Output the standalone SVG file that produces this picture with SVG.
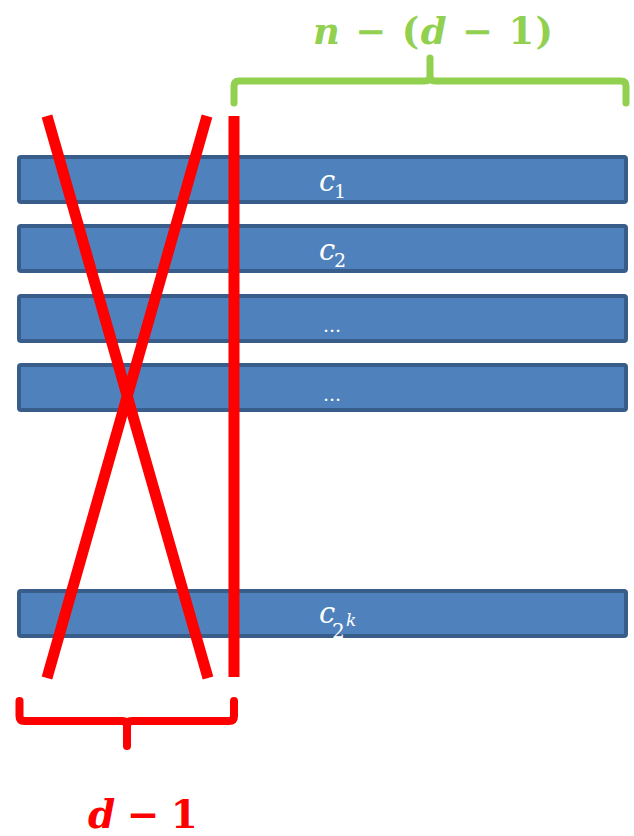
<svg xmlns="http://www.w3.org/2000/svg" width="634" height="836" viewBox="0 0 634 836">
  <style>
    .bar { fill: #4F81BD; stroke: #385D8A; stroke-width: 4; }
    .cut { stroke: #FF0000; stroke-width: 11; fill: none; }
    .lbl { fill: #FFFFFF; font-family: "DejaVu Serif", "Liberation Serif", serif; font-style: italic; }
    .sub { fill: #FFFFFF; font-family: "DejaVu Serif", "Liberation Serif", serif; font-style: normal; }
    .math { font-family: "DejaVu Serif", "Liberation Serif", serif; font-weight: bold; }
    .it { font-style: italic; }
  </style>
  <rect width="634" height="836" fill="#FFFFFF"/>

  <!-- codeword rows -->
  <g id="row1"><rect class="bar" x="19" y="157" width="607" height="45" rx="2"/>
    <text class="lbl" x="319" y="191" font-size="29">c</text><text class="sub" x="334" y="198" font-size="19">1</text></g>
  <g id="row2"><rect class="bar" x="19" y="226" width="607" height="45" rx="2"/>
    <text class="lbl" x="319" y="260" font-size="29">c</text><text class="sub" x="334" y="267" font-size="19">2</text></g>
  <g id="row3"><rect class="bar" x="19" y="296" width="607" height="45" rx="2"/>
    <text class="sub" x="332" y="332" font-size="19" text-anchor="middle">...</text></g>
  <g id="row4"><rect class="bar" x="19" y="365" width="607" height="45" rx="2"/>
    <text class="sub" x="332" y="401" font-size="19" text-anchor="middle">...</text></g>
  <g id="row5"><rect class="bar" x="19" y="591" width="607" height="45" rx="2"/>
    <text class="lbl" x="319" y="623" font-size="29">c</text><text class="sub" x="332" y="638" font-size="20">2</text><text class="lbl" x="346" y="626" font-size="17">k</text></g>

  <!-- deleted coordinates -->
  <g id="cuts">
    <line class="cut" x1="47" y1="116" x2="208" y2="678"/>
    <line class="cut" x1="207" y1="116" x2="47" y2="678"/>
    <line class="cut" x1="234" y1="116" x2="234" y2="677"/>
  </g>

  <!-- braces -->
  <g id="brace-top">
    <path d="M234,103 V86 Q234,81 239,81 H425 Q430,81 430,76 V58 M430,76 Q430,81 435,81 H621 Q626,81 626,86 V103" fill="none" stroke="#92D050" stroke-width="7" stroke-linecap="round" stroke-linejoin="round"/>
    <text class="math" x="433" y="44" font-size="37" fill="#92D050" text-anchor="middle" textLength="240" lengthAdjust="spacing"><tspan class="it">n</tspan> − (<tspan class="it">d</tspan> − 1)</text>
  </g>
  <g id="brace-bottom">
    <path d="M19.5,701 V716 Q19.5,721 24.5,721 H122 Q127,721 127,726 V746 M127,726 Q127,721 132,721 H229 Q234,721 234,716 V701" fill="none" stroke="#FF0000" stroke-width="8" stroke-linecap="round" stroke-linejoin="round"/>
    <text class="math" x="143" y="828" font-size="39" fill="#FF0000" text-anchor="middle" textLength="110" lengthAdjust="spacing"><tspan class="it">d</tspan> − 1</text>
  </g>
</svg>
